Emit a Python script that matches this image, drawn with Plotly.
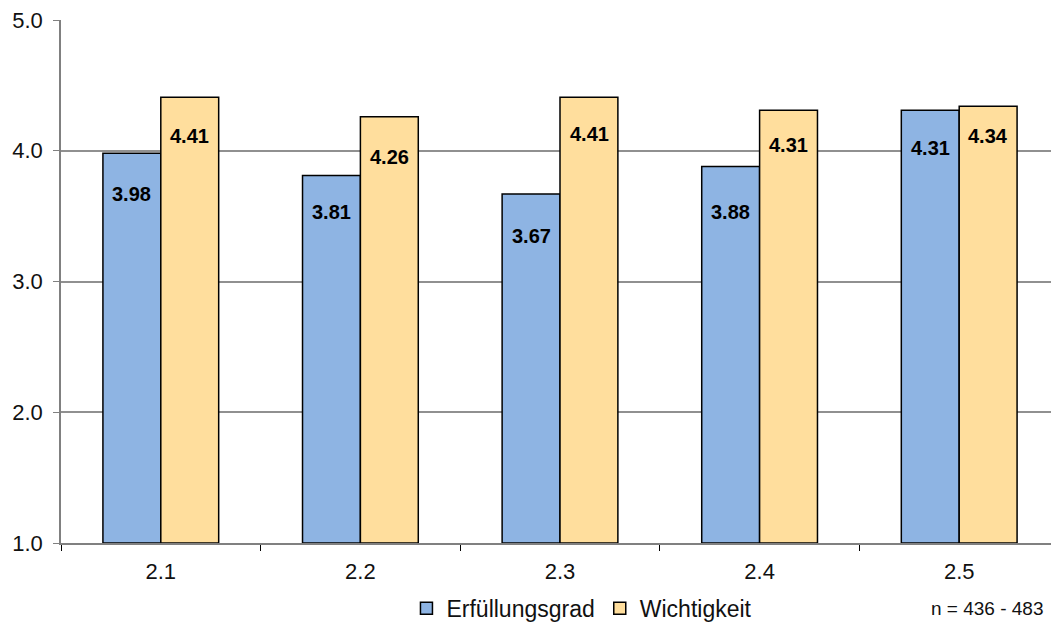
import plotly.graph_objects as go

categories = ["2.1", "2.2", "2.3", "2.4", "2.5"]
erfuellung = [3.98, 3.81, 3.67, 3.88, 4.31]
wichtigkeit = [4.41, 4.26, 4.41, 4.31, 4.34]
y_ticks = [1.0, 2.0, 3.0, 4.0, 5.0]
y_ticktext = ["1.0", "2.0", "3.0", "4.0", "5.0"]

# label placement styling (pixels below the bar top)
label_drop_blue = [41, 36, 42, 46, 38]
label_drop_yellow = [39, 40, 37, 35, 30]

FONT = "Liberation Sans, Arial"

fig = go.Figure()
fig.add_trace(go.Bar(
    name="Erfüllungsgrad", x=categories, y=[v - 1 for v in erfuellung], base=1,
    marker=dict(color="#8EB4E3", line=dict(color="black", width=1.5)),
    hoverinfo="skip",
))
fig.add_trace(go.Bar(
    name="Wichtigkeit", x=categories, y=[v - 1 for v in wichtigkeit], base=1,
    marker=dict(color="#FFDE9D", line=dict(color="black", width=1.5)),
    hoverinfo="skip",
))

bar_half = 29
for i, (v, d) in enumerate(zip(erfuellung, label_drop_blue)):
    fig.add_annotation(x=i, y=v, text=f"<b>{v:.2f}</b>", showarrow=False,
                       xshift=-bar_half, yshift=-d, yanchor="middle",
                       font=dict(family=FONT, size=20, color="black"))
for i, (v, d) in enumerate(zip(wichtigkeit, label_drop_yellow)):
    fig.add_annotation(x=i, y=v, text=f"<b>{v:.2f}</b>", showarrow=False,
                       xshift=bar_half, yshift=-d, yanchor="middle",
                       font=dict(family=FONT, size=20, color="black"))

fig.update_layout(
    width=1051, height=622,
    margin=dict(l=53, r=0, t=12, b=84),
    plot_bgcolor="white", paper_bgcolor="white",
    barmode="group", bargap=0.42, bargroupgap=0,
    font=dict(family=FONT, size=22, color="#111"),
    showlegend=True,
    legend=dict(orientation="h", x=0.522, xanchor="center", y=-0.125, yanchor="middle",
                font=dict(size=23), itemwidth=30, traceorder="normal"),
)
fig.update_xaxes(
    type="category",
    showline=True, linecolor="#808080", linewidth=1.5,
    ticks="outside", tickson="boundaries", ticklen=6, tickcolor="black",
    tickfont=dict(size=22), automargin=False, ticklabelstandoff=8,
)
fig.update_yaxes(
    range=[1, 5], tickvals=y_ticks, ticktext=y_ticktext,
    showline=True, linecolor="#808080", linewidth=1.5,
    ticks="outside", ticklen=6, tickcolor="#808080",
    showgrid=True, gridcolor="#909090", gridwidth=1.5,
    tickfont=dict(size=22), zeroline=False, automargin=False,
    ticklabelstandoff=6, ticklabeloverflow="allow",
)
fig.add_annotation(text="n = 436 - 483", xref="paper", yref="paper", x=0.987, y=-0.125,
                   xanchor="right", yanchor="middle", showarrow=False,
                   font=dict(size=19, color="#111"))

fig.write_html("out.html")
